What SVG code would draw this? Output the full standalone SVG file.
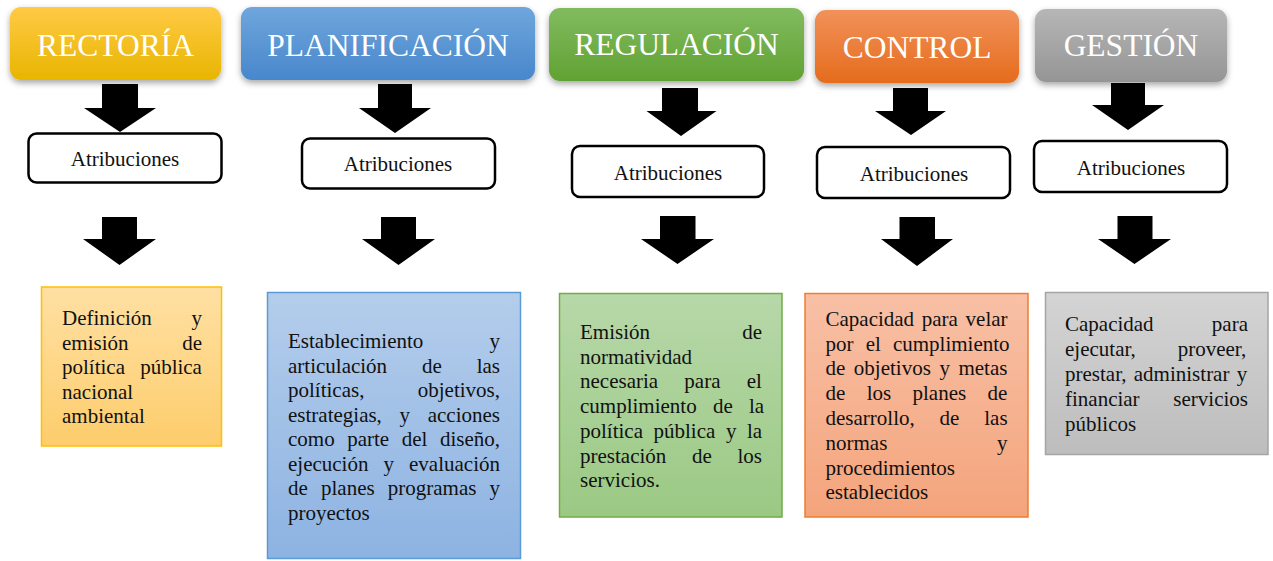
<svg xmlns="http://www.w3.org/2000/svg" width="1273" height="561" viewBox="0 0 1273 561">
<style>
.hd{font-family:"Liberation Serif","Times New Roman",serif;font-size:31.5px;fill:#ffffff;text-anchor:middle}
.at{fill:#ffffff;stroke:#000000;stroke-width:2.5}
.atx{font-family:"Liberation Serif","Times New Roman",serif;font-size:21px;fill:#111111;text-anchor:middle}
.bt{font-family:"Liberation Serif","Times New Roman",serif;font-size:21px;fill:#111111}
.arr{fill:#000000}
</style>
<defs>
<filter id="sh" x="-10%" y="-20%" width="120%" height="150%">
<feDropShadow dx="0" dy="3" stdDeviation="3" flood-color="#000000" flood-opacity="0.35"/>
</filter>
<linearGradient id="gY" x1="0" y1="0" x2="0" y2="1"><stop offset="0" stop-color="#FFCA45"/><stop offset="1" stop-color="#E8B500"/></linearGradient>
<linearGradient id="gB" x1="0" y1="0" x2="0" y2="1"><stop offset="0" stop-color="#6FA6DC"/><stop offset="1" stop-color="#4887CC"/></linearGradient>
<linearGradient id="gG" x1="0" y1="0" x2="0" y2="1"><stop offset="0" stop-color="#81BB5F"/><stop offset="1" stop-color="#61A233"/></linearGradient>
<linearGradient id="gO" x1="0" y1="0" x2="0" y2="1"><stop offset="0" stop-color="#F1915A"/><stop offset="1" stop-color="#E56C1C"/></linearGradient>
<linearGradient id="gS" x1="0" y1="0" x2="0" y2="1"><stop offset="0" stop-color="#B6B6B6"/><stop offset="1" stop-color="#959595"/></linearGradient>
<linearGradient id="lY" x1="0" y1="0" x2="0" y2="1"><stop offset="0" stop-color="#FFE0A3"/><stop offset="1" stop-color="#FDCD6C"/></linearGradient>
<linearGradient id="lB" x1="0" y1="0" x2="0" y2="1"><stop offset="0" stop-color="#B4CDEB"/><stop offset="1" stop-color="#8DB3E2"/></linearGradient>
<linearGradient id="lG" x1="0" y1="0" x2="0" y2="1"><stop offset="0" stop-color="#B7D8A9"/><stop offset="1" stop-color="#9BC984"/></linearGradient>
<linearGradient id="lO" x1="0" y1="0" x2="0" y2="1"><stop offset="0" stop-color="#F8C0A6"/><stop offset="1" stop-color="#F4A47B"/></linearGradient>
<linearGradient id="lS" x1="0" y1="0" x2="0" y2="1"><stop offset="0" stop-color="#D4D4D4"/><stop offset="1" stop-color="#BDBDBD"/></linearGradient>
</defs>

<g id="connectors">
<path class="arr" d="M102,84 H138 V108 H156 L120,132 L84,108 H102 Z"/>
<path class="arr" d="M378,84 H412 V108 H431 L395,133 L359,108 H378 Z"/>
<path class="arr" d="M662,88 H698 V111 H716.5 L681,136 L646.5,111 H662 Z"/>
<path class="arr" d="M893,88 H928 V111 H946 L911,135 L875,111 H893 Z"/>
<path class="arr" d="M1111,83 H1145 V105 H1164 L1128,130 L1092,105 H1111 Z"/>
<path class="arr" d="M102,217 H137 V239 H156 L119.5,265 L83,239 H102 Z"/>
<path class="arr" d="M381,217 H416 V239 H435 L398.5,265 L362,239 H381 Z"/>
<path class="arr" d="M660,216 H695.5 V239 H714 L677.5,264 L641,239 H660 Z"/>
<path class="arr" d="M899.5,217 H935 V239 H953 L917,266 L881,239 H899.5 Z"/>
<path class="arr" d="M1117.5,216 H1152.5 V239 H1171 L1134.5,264 L1098,239 H1117.5 Z"/>
</g>

<g id="rectoria">
<rect x="10" y="7" width="211" height="73" rx="11" fill="url(#gY)" filter="url(#sh)"/>
<text class="hd" x="115.5" y="55.5">RECTORÍA</text>
</g>
<g id="planificacion">
<rect x="241" y="7" width="294" height="73" rx="11" fill="url(#gB)" filter="url(#sh)"/>
<text class="hd" x="388" y="55.5">PLANIFICACIÓN</text>
</g>
<g id="regulacion">
<rect x="549" y="8" width="255" height="73" rx="11" fill="url(#gG)" filter="url(#sh)"/>
<text class="hd" x="676.5" y="55">REGULACIÓN</text>
</g>
<g id="control">
<rect x="815" y="10" width="204" height="73" rx="11" fill="url(#gO)" filter="url(#sh)"/>
<text class="hd" x="917" y="57.5">CONTROL</text>
</g>
<g id="gestion">
<rect x="1035" y="9" width="192" height="73" rx="11" fill="url(#gS)" filter="url(#sh)"/>
<text class="hd" x="1131" y="56">GESTIÓN</text>
</g>

<g id="atrib-rectoria">
<rect class="at" x="28.5" y="133.5" width="193" height="49" rx="8"/>
<text class="atx" x="125" y="166">Atribuciones</text>
</g>
<g id="atrib-planificacion">
<rect class="at" x="302" y="138.5" width="193" height="50" rx="8"/>
<text class="atx" x="398" y="171">Atribuciones</text>
</g>
<g id="atrib-regulacion">
<rect class="at" x="572" y="146" width="192" height="51" rx="8"/>
<text class="atx" x="668" y="179.5">Atribuciones</text>
</g>
<g id="atrib-control">
<rect class="at" x="817" y="147" width="193" height="51" rx="8"/>
<text class="atx" x="914" y="180.5">Atribuciones</text>
</g>
<g id="atrib-gestion">
<rect class="at" x="1034" y="141" width="193" height="51" rx="8"/>
<text class="atx" x="1131" y="174.5">Atribuciones</text>
</g>

<g id="desc-rectoria">
<rect x="41.5" y="287" width="180" height="159" fill="url(#lY)" stroke="#FFC000" stroke-width="1.5"/>
<text class="bt" x="62" y="325" style="word-spacing:34.4px">Definición y</text>
<text class="bt" x="62" y="349.5" style="word-spacing:48.4px">emisión de</text>
<text class="bt" x="62" y="374" style="word-spacing:9.9px">política pública</text>
<text class="bt" x="62" y="398.5">nacional</text>
<text class="bt" x="62" y="423">ambiental</text>
</g>

<g id="desc-planificacion">
<rect x="267.5" y="292.5" width="253" height="266" fill="url(#lB)" stroke="#5B9BD5" stroke-width="1.5"/>
<text class="bt" x="288" y="348" style="word-spacing:60.9px">Establecimiento y</text>
<text class="bt" x="288" y="372.5" style="word-spacing:29.6px">articulación de las</text>
<text class="bt" x="288" y="397" style="word-spacing:48.1px">políticas, objetivos,</text>
<text class="bt" x="288" y="421.5" style="word-spacing:12.4px">estrategias, y acciones</text>
<text class="bt" x="288" y="446" style="word-spacing:7.3px">como parte del diseño,</text>
<text class="bt" x="288" y="470.5" style="word-spacing:9.8px">ejecución y evaluación</text>
<text class="bt" x="288" y="495" style="word-spacing:7.9px">de planes programas y</text>
<text class="bt" x="288" y="519.5">proyectos</text>
</g>

<g id="desc-regulacion">
<rect x="559.5" y="293.5" width="222.5" height="223.5" fill="url(#lG)" stroke="#70AD47" stroke-width="1.5"/>
<text class="bt" x="580" y="339" style="word-spacing:86.9px">Emisión de</text>
<text class="bt" x="580" y="363.7">normatividad</text>
<text class="bt" x="580" y="388.4" style="word-spacing:21px">necesaria para el</text>
<text class="bt" x="580" y="413.1" style="word-spacing:11px">cumplimiento de la</text>
<text class="bt" x="580" y="437.8" style="word-spacing:5.3px">política pública y la</text>
<text class="bt" x="580" y="462.5" style="word-spacing:20.4px">prestación de los</text>
<text class="bt" x="580" y="487.2">servicios.</text>
</g>

<g id="desc-control">
<rect x="805" y="293.5" width="223" height="223.5" fill="url(#lO)" stroke="#ED7D31" stroke-width="1.5"/>
<text class="bt" x="825.5" y="325.7" style="word-spacing:2.4px">Capacidad para velar</text>
<text class="bt" x="825.5" y="350.5" style="word-spacing:6.9px">por el cumplimiento</text>
<text class="bt" x="825.5" y="375.3" style="word-spacing:3.3px">de objetivos y metas</text>
<text class="bt" x="825.5" y="400.1" style="word-spacing:16.1px">de los planes de</text>
<text class="bt" x="825.5" y="424.9" style="word-spacing:19.6px">desarrollo, de las</text>
<text class="bt" x="825.5" y="449.7" style="word-spacing:104.4px">normas y</text>
<text class="bt" x="825.5" y="474.5">procedimientos</text>
<text class="bt" x="825.5" y="499.3">establecidos</text>
</g>

<g id="desc-gestion">
<rect x="1045.5" y="292.5" width="222.5" height="162" fill="url(#lS)" stroke="#A5A5A5" stroke-width="1.5"/>
<text class="bt" x="1065" y="331" style="word-spacing:53px">Capacidad para</text>
<text class="bt" x="1065" y="355.9" style="word-spacing:36.6px">ejecutar, proveer,</text>
<text class="bt" x="1065" y="380.8" style="word-spacing:2px">prestar, administrar y</text>
<text class="bt" x="1065" y="405.7" style="word-spacing:28.5px">financiar servicios</text>
<text class="bt" x="1065" y="430.6">públicos</text>
</g>
</svg>
